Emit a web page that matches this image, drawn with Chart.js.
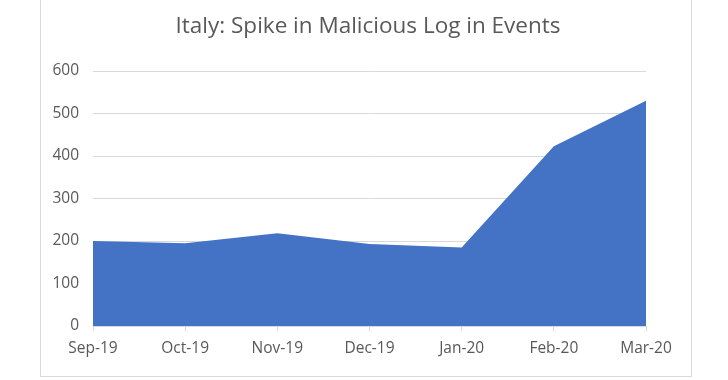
<!DOCTYPE html>
<html>
<head>
<meta charset="utf-8">
<script src="https://cdn.jsdelivr.net/npm/chart.js@4"></script>
<style>
html,body{margin:0;padding:0;background:#fff;overflow:hidden;}
#wrap{position:relative;width:728px;height:380px;}
#frame{position:absolute;left:40px;top:-2px;width:652px;height:379px;border:1px solid #d9d9d9;box-sizing:border-box;pointer-events:none;}
canvas{position:absolute;left:0;top:0;}
</style>
</head>
<body>
<div id="wrap">
<canvas id="c" width="728" height="380"></canvas>
<div id="frame"></div>
</div>
<script>
const titleText = "Italy: Spike in Malicious Log in Events";
const categories = ["Sep-19","Oct-19","Nov-19","Dec-19","Jan-20","Feb-20","Mar-20"];
const events = [200, 195, 218, 193, 185, 423, 530];
const yTicks = [0, 100, 200, 300, 400, 500, 600];

const FONT = "'Open Sans', sans-serif";
const TXT = "#595959";
const GRID = "#d9d9d9";

const titlePlugin = {
  id: 'customTitle',
  afterDraw(chart) {
    const ctx = chart.ctx;
    ctx.save();
    ctx.font = "22.5px " + FONT;
    ctx.fillStyle = TXT;
    ctx.textAlign = 'center';
    ctx.textBaseline = 'middle';
    ctx.fillText(titleText, 368, 27);
    ctx.restore();
  }
};

new Chart(document.getElementById('c'), {
  type: 'line',
  data: {
    labels: categories,
    datasets: [{
      data: events,
      fill: 'origin',
      backgroundColor: '#4472C4',
      borderWidth: 0,
      borderColor: '#4472C4',
      pointRadius: 0,
      tension: 0
    }]
  },
  options: {
    responsive: false,
    animation: false,
    devicePixelRatio: 1,
    layout: { padding: { left: 0, right: 82, top: 71, bottom: 0 } },
    plugins: { legend: { display: false }, tooltip: { enabled: false }, title: { display: false } },
    scales: {
      x: {
        offset: false,
        grid: { drawOnChartArea: false, drawTicks: true, tickLength: 5, color: GRID },
        border: { display: true, color: GRID, width: 1 },
        ticks: { color: TXT, font: { family: FONT, size: 15.5 }, padding: 8, maxRotation: 0, autoSkip: false },
        afterFit(s) { s.height = 54; }
      },
      y: {
        min: 0, max: 600,
        afterBuildTicks(s) { s.ticks = yTicks.map(v => ({ value: v })); },
        grid: { color: GRID, drawTicks: false, lineWidth: 1 },
        border: { display: false },
        ticks: { color: TXT, font: { family: FONT, size: 15.5 }, padding: 14 },
        afterFit(s) { s.width = 93; }
      }
    }
  },
  plugins: [titlePlugin]
});
</script>
</body>
</html>
